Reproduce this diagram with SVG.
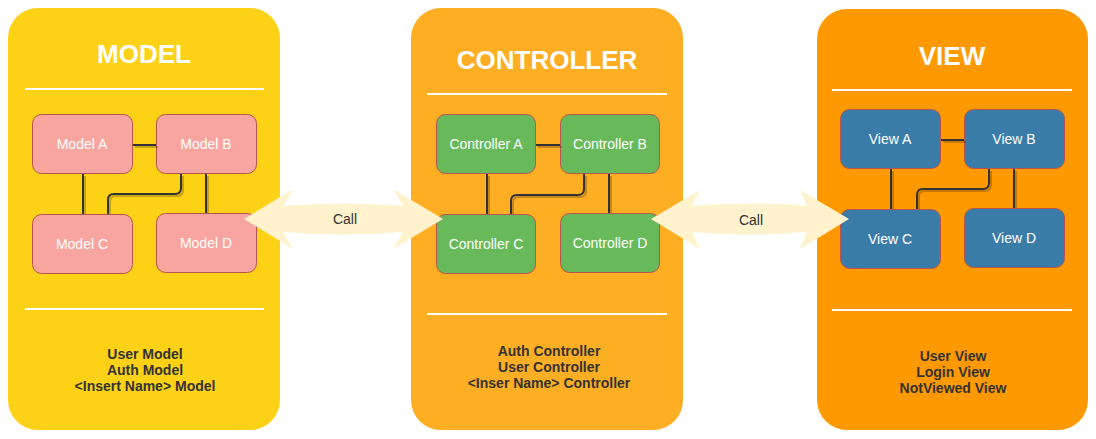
<svg xmlns="http://www.w3.org/2000/svg" width="1096" height="439" viewBox="0 0 1096 439">
<style>
.title{font-family:"Liberation Sans",Arial,sans-serif;font-weight:bold;font-size:26px;fill:#ffffff;text-anchor:middle}
.sep{stroke:#ffffff;stroke-width:2}
.node{stroke:#b85450;stroke-width:1}
.nlabel{font-family:"Liberation Sans",Arial,sans-serif;font-size:14px;fill:#ffffff;text-anchor:middle;dominant-baseline:central}
.list{font-family:"Liberation Sans",Arial,sans-serif;font-weight:bold;font-size:14px;fill:#333333;text-anchor:middle}
.wire{fill:none;stroke:#333333;stroke-width:2}
.shadow{fill:none;stroke:#000000;stroke-opacity:0.22;stroke-width:2}
.call{fill:#FFF2CC;stroke:none}
.clabel{font-family:"Liberation Sans",Arial,sans-serif;font-size:14px;fill:#333333;text-anchor:middle;dominant-baseline:central}
</style>
<rect width="1096" height="439" fill="#ffffff"/>

<g id="panel-model">
<rect x="8" y="8" width="272" height="422" rx="30" fill="#FDD116"/>
<text class="title" x="144" y="63">MODEL</text>
<line class="sep" x1="25" y1="89" x2="264" y2="89"/>
<line class="sep" x1="25" y1="309" x2="264" y2="309"/>
<text class="list" x="145" y="359">User Model</text>
<text class="list" x="145" y="375">Auth Model</text>
<text class="list" x="145" y="391">&lt;Insert Name&gt; Model</text>
</g>

<g id="panel-controller">
<rect x="411" y="8" width="272" height="422" rx="30" fill="#FEAE22"/>
<text class="title" x="547" y="69">CONTROLLER</text>
<line class="sep" x1="427" y1="94" x2="667" y2="94"/>
<line class="sep" x1="427" y1="314" x2="667" y2="314"/>
<text class="list" x="549" y="356">Auth Controller</text>
<text class="list" x="549" y="372">User Controller</text>
<text class="list" x="549" y="388">&lt;Inser Name&gt; Controller</text>
</g>

<g id="panel-view">
<rect x="817" y="9" width="271" height="421" rx="30" fill="#FF9900"/>
<text class="title" x="952" y="65">VIEW</text>
<line class="sep" x1="832" y1="90" x2="1072" y2="90"/>
<line class="sep" x1="832" y1="310" x2="1072" y2="310"/>
<text class="list" x="953" y="361">User View</text>
<text class="list" x="953" y="377">Login View</text>
<text class="list" x="953" y="393">NotViewed View</text>
</g>

<g id="model-a"><rect class="node" x="32.5" y="114.5" width="100" height="59" rx="9" fill="#F8A5A0"/><text class="nlabel" x="82" y="144">Model A</text></g>
<g id="model-b"><rect class="node" x="156.5" y="114.5" width="100" height="59" rx="9" fill="#F8A5A0"/><text class="nlabel" x="206" y="144">Model B</text></g>
<g id="model-c"><rect class="node" x="32.5" y="214.5" width="100" height="59" rx="9" fill="#F8A5A0"/><text class="nlabel" x="82" y="244">Model C</text></g>
<g id="model-d"><rect class="node" x="156.5" y="213.5" width="100" height="59" rx="9" fill="#F8A5A0"/><text class="nlabel" x="206" y="243">Model D</text></g>

<g id="controller-a"><rect class="node" x="436.5" y="114.5" width="99" height="59" rx="9" fill="#67B95A"/><text class="nlabel" x="486" y="144">Controller A</text></g>
<g id="controller-b"><rect class="node" x="560.5" y="114.5" width="99" height="59" rx="9" fill="#67B95A"/><text class="nlabel" x="610" y="144">Controller B</text></g>
<g id="controller-c"><rect class="node" x="436.5" y="214.5" width="99" height="59" rx="9" fill="#67B95A"/><text class="nlabel" x="486" y="244">Controller C</text></g>
<g id="controller-d"><rect class="node" x="560.5" y="213.5" width="99" height="59" rx="9" fill="#67B95A"/><text class="nlabel" x="610" y="243">Controller D</text></g>

<g id="view-a"><rect class="node" x="840.5" y="109.5" width="100" height="59" rx="9" fill="#3A7CA8"/><text class="nlabel" x="890" y="139">View A</text></g>
<g id="view-b"><rect class="node" x="964.5" y="109.5" width="100" height="59" rx="9" fill="#3A7CA8"/><text class="nlabel" x="1014" y="139">View B</text></g>
<g id="view-c"><rect class="node" x="840.5" y="209.5" width="100" height="59" rx="9" fill="#3A7CA8"/><text class="nlabel" x="890" y="239">View C</text></g>
<g id="view-d"><rect class="node" x="964.5" y="208.5" width="100" height="59" rx="9" fill="#3A7CA8"/><text class="nlabel" x="1014" y="238">View D</text></g>

<g id="connectors">
<g transform="translate(2,2)">
<path class="shadow" d="M133,145 H156"/>
<path class="shadow" d="M83,174 V212"/>
<path class="shadow" d="M206,174 V211"/>
<path class="shadow" d="M181,174 V188 Q181,194 175,194 H114 Q108,194 108,200 V212"/>
<path class="shadow" d="M536,145 H560"/>
<path class="shadow" d="M487,174 V212"/>
<path class="shadow" d="M609,174 V211"/>
<path class="shadow" d="M584,174 V189 Q584,195 578,195 H517 Q511,195 511,201 V212"/>
<path class="shadow" d="M941,140 H964"/>
<path class="shadow" d="M891,169 V207"/>
<path class="shadow" d="M1014,169 V206"/>
<path class="shadow" d="M989,169 V183 Q989,189 983,189 H923 Q917,189 917,195 V207"/>
</g>
<path class="wire" d="M133,145 H156"/>
<path class="wire" d="M83,174 V214"/>
<path class="wire" d="M206,174 V213"/>
<path class="wire" d="M181,174 V188 Q181,194 175,194 H114 Q108,194 108,200 V214"/>
<path class="wire" d="M536,145 H560"/>
<path class="wire" d="M487,174 V214"/>
<path class="wire" d="M609,174 V213"/>
<path class="wire" d="M584,174 V189 Q584,195 578,195 H517 Q511,195 511,201 V214"/>
<path class="wire" d="M941,140 H964"/>
<path class="wire" d="M891,169 V209"/>
<path class="wire" d="M1014,169 V208"/>
<path class="wire" d="M989,169 V183 Q989,189 983,189 H923 Q917,189 917,195 V209"/>

<g id="call-model-controller">
<path class="call" d="M244,219 L293,189 L283,206 Q343,201 403,206 L393,189 L443,219 L393,249 L403,232 Q343,237 283,232 L293,249 Z"/>
<text class="clabel" x="345" y="219">Call</text>
</g>
<g id="call-controller-view">
<path class="call" d="M651,219 L700,190 L692,206 Q750,201 807,206 L800,190 L849,219 L800,249 L807,232 Q750,237 692,232 L700,249 Z"/>
<text class="clabel" x="751" y="220">Call</text>
</g>
</g>
</svg>
